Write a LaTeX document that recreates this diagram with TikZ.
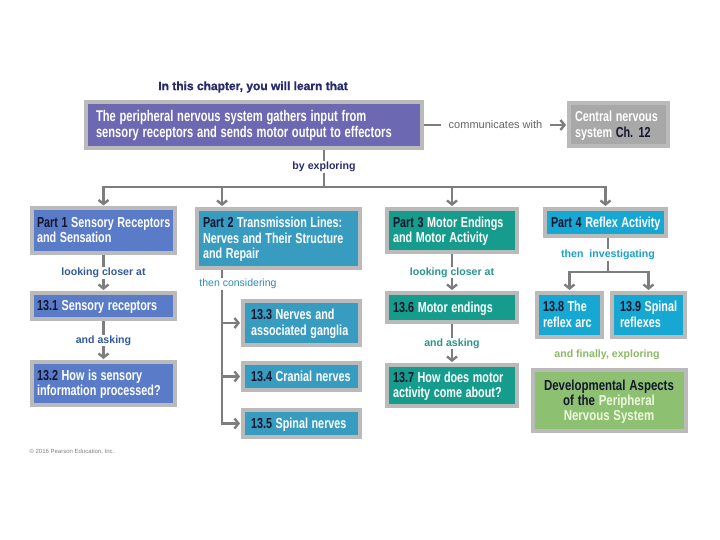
\documentclass[tikz,border=0pt]{standalone}
\usepackage{fontspec}
\usepackage{graphicx}
\setmainfont{Liberation Sans}
\newfontfamily\heavyf[FakeBold=1.2]{Liberation Sans Bold}
\usetikzlibrary{arrows.meta,calc,shadows}
\definecolor{cmain}{RGB}{108,104,178}
\definecolor{cp1}{RGB}{90,124,200}
\definecolor{cp2}{RGB}{56,155,192}
\definecolor{cp3}{RGB}{22,156,140}
\definecolor{cp4}{RGB}{22,168,210}
\definecolor{cdev}{RGB}{141,192,112}
\definecolor{ccns}{RGB}{168,168,168}
\definecolor{cline}{RGB}{125,125,125}
\definecolor{cborder}{RGB}{186,186,186}
\definecolor{cnavy}{RGB}{40,44,110}
\definecolor{cdark}{RGB}{20,22,45}
\definecolor{lone}{RGB}{50,90,155}
\definecolor{ltwo}{RGB}{45,140,180}
\definecolor{lthree}{RGB}{40,150,140}
\definecolor{lfour}{RGB}{30,160,200}
\definecolor{lfive}{RGB}{140,185,100}
\definecolor{lcomm}{RGB}{100,100,100}
\definecolor{cpale}{RGB}{238,248,225}
\newcommand{\dk}[1]{\textcolor{cdark}{#1}}
\def\sqzscale{0.745}
\newcommand{\sqz}[2][l]{\raisebox{0pt}[\dimexpr\height+3pt\relax][\depth]{\scalebox{\sqzscale}[1]{\begin{tabular}{@{}#1@{}}#2\end{tabular}}}}
\tikzset{
  box/.style={draw=cborder, line width=4pt, rectangle, inner xsep=7pt, inner ysep=2pt,
    text=white, align=left, font=\bfseries\fontsize{14.5}{15.5}\selectfont,
    drop shadow={shadow xshift=1.2pt, shadow yshift=-1.2pt, opacity=0.18}},
  conn/.style={draw=cline, line width=2.4pt},
  arr/.style={conn, -{Straight Barb[length=4pt,width=10pt]}, shorten >=1pt},
  lab/.style={fill=white, inner xsep=3pt, inner ysep=1pt, font=\bfseries\fontsize{10.6}{12}\selectfont}
}
\begin{document}
\begin{tikzpicture}[x=1pt,y=-1pt]
\useasboundingbox (0,0) rectangle (720,540);
% title
\node[font=\heavyf\fontsize{12}{13}\selectfont, text=cnavy] (title) at (253,87) {In this chapter, you will learn that};
% main box
\node[box, fill=cmain, minimum width=336pt, minimum height=46pt, text width=316pt, inner xsep=10pt,
  font=\bfseries\fontsize{15.5}{15}\selectfont\def\sqzscale{0.72}] (main) at (254,125)
  {\sqz{The peripheral nervous system gathers input from\\sensory receptors and sends motor output to effectors}};
\node[box, fill=ccns, minimum width=99pt, minimum height=43pt, text width=87pt, inner xsep=6pt] (cns) at (618.5,125)
  {\sqz{Central nervous\\system \dk{Ch. 12}}};
% parts
\node[box, fill=cp1, minimum width=143pt, minimum height=44pt, text width=133pt, inner xsep=5pt] (p1) at (103.5,230.5)
  {\sqz{\dk{Part 1} Sensory Receptors\\and Sensation}};
\node[box, fill=cp2, minimum width=163pt, minimum height=59pt, text width=151pt, inner xsep=6pt] (p2) at (278.5,238.5)
  {\sqz{\dk{Part 2} Transmission Lines:\\Nerves and Their Structure\\and Repair}};
\node[box, fill=cp3, minimum width=130pt, minimum height=43pt, text width=118pt, inner xsep=6pt] (p3) at (452,230.5)
  {\sqz{\dk{Part 3} Motor Endings\\and Motor Activity}};
\node[box, fill=cp4, minimum width=121pt, minimum height=27pt, text width=115pt, inner xsep=3pt] (p4) at (605.5,222.5)
  {\hspace{3pt}\sqz{\dk{Part 4}\hspace{5pt}Reflex Activity}};
% sections
\node[box, fill=cp1, minimum width=143pt, minimum height=26pt, text width=133pt, inner xsep=5pt] (s1) at (103.5,306)
  {\sqz{\dk{13.1} Sensory receptors}};
\node[box, fill=cp1, minimum width=143pt, minimum height=43pt, text width=133pt, inner xsep=5pt] (s2) at (103.5,383.5)
  {\sqz{\dk{13.2} How is sensory\\information processed?}};
\node[box, fill=cp2, minimum width=117pt, minimum height=44pt, text width=105pt, inner xsep=6pt] (s3) at (301.5,323)
  {\hspace{2pt}\sqz{\dk{13.3} Nerves and\\associated ganglia}};
\node[box, fill=cp2, minimum width=117pt, minimum height=27pt, text width=105pt, inner xsep=6pt] (s4) at (301.5,376.5)
  {\hspace{2pt}\sqz{\dk{13.4} Cranial nerves}};
\node[box, fill=cp2, minimum width=117pt, minimum height=27pt, text width=105pt, inner xsep=6pt] (s5) at (301.5,423.5)
  {\hspace{2pt}\sqz{\dk{13.5} Spinal nerves}};
\node[box, fill=cp3, minimum width=130pt, minimum height=29pt, text width=118pt, inner xsep=6pt] (s6) at (452,307.5)
  {\sqz{\dk{13.6}\hspace{5pt}Motor endings}};
\node[box, fill=cp3, minimum width=130pt, minimum height=41pt, text width=118pt, inner xsep=6pt] (s7) at (452,385.5)
  {\sqz{\dk{13.7} How does motor\\activity come about?}};
\node[box, fill=cp4, minimum width=65pt, minimum height=44pt, text width=57pt, inner xsep=4pt] (s8) at (569.5,315)
  {\hspace{2pt}\sqz{\dk{13.8} The\\reflex arc}};
\node[box, fill=cp4, minimum width=73pt, minimum height=44pt, text width=65pt, inner xsep=4pt] (s9) at (648.5,315)
  {\hspace{4pt}\sqz{\dk{13.9} Spinal\\reflexes}};
\node[box, fill=cdev, minimum width=153pt, minimum height=61pt, text width=145pt, inner xsep=4pt, align=center, text=cpale,
  font=\bfseries\fontsize{14.5}{15}\selectfont\def\sqzscale{0.79}] (dev) at (609,400.5)
  {\sqz[c]{\dk{Developmental Aspects}\\\dk{of the} Peripheral\\Nervous System}};
% connectors
\draw[arr] (main.east) -- (cns.west) node[midway, lab, inner xsep=8pt, text=lcomm, font=\fontsize{11}{12}\selectfont] (comm) {communicates with};
\coordinate (j0) at (324,187);
\draw[conn] (main.south -| j0) -- (j0) node[pos=0.45, lab, text=cnavy] (lexp) {by exploring};
\draw[arr] (j0) -| (p1.north);
\draw[arr] (j0) -| ([xshift=-56.5pt]p2.north);
\draw[arr] (j0) -| (p3.north);
\draw[arr] (j0) -| (p4.north);
\draw[arr] (p1.south) -- (s1.north) node[midway, lab, text=lone] (l1) {looking closer at};
\draw[arr] (s1.south) -- (s2.north) node[midway, lab, text=lone] (l2) {and asking};
\draw[arr] (p3.south) -- (s6.north) node[midway, lab, text=lthree] (l3) {looking closer at};
\draw[arr] (s6.south) -- (s7.north) node[midway, lab, text=lthree] (l4) {and asking};
\coordinate (t2) at ([xshift=-56.5pt]p2.south);
\draw[arr] (t2) |- (s3.west);
\draw[arr] (t2) |- (s4.west);
\draw[arr] (t2) |- (s5.west);
\node[lab, text=ltwo, font=\fontsize{10.5}{12}\selectfont] (l5) at (238,284) {then considering};
\coordinate (j4) at (608,272);
\draw[conn] (p4.south -| j4) -- (j4) node[pos=0.5, lab, text=lfour] (l6) {then\ \ investigating};
\draw[arr] (j4) -| (s8.north);
\draw[arr] (j4) -| (s9.north);
\node[lab, text=lfive] (l7) at (607,355) {and finally, exploring};
\node[font=\fontsize{6}{7}\selectfont, text=gray, anchor=west] (copy) at (26,452) {© 2016 Pearson Education, Inc.};
\end{tikzpicture}
\end{document}
